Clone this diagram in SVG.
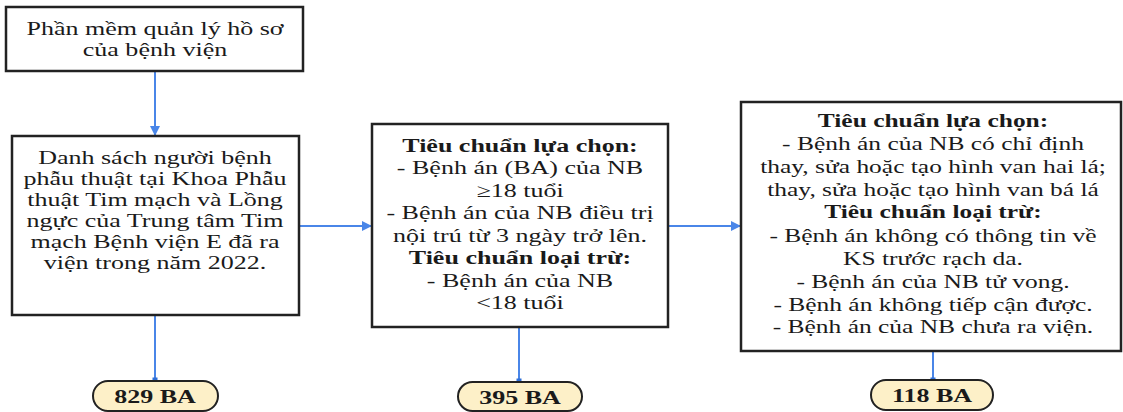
<svg xmlns="http://www.w3.org/2000/svg" width="1123" height="412" viewBox="0 0 1123 412">
<style>
.box{fill:#fff;stroke:#222;stroke-width:2.5}
.oval{fill:#fdf0c8;stroke:#222;stroke-width:2}
.t{font-family:"Liberation Serif","Times New Roman",serif;font-size:19px;fill:#1a1a1a;text-anchor:middle}
.b{font-weight:bold}
.ov{font-family:"Liberation Serif","Times New Roman",serif;font-size:19px;font-weight:bold;fill:#1a1a1a;text-anchor:middle}
.c{stroke:#4a86e8;stroke-width:2;fill:none}
</style>
<defs>
<marker id="ah" markerWidth="10" markerHeight="10" refX="9" refY="5" orient="auto" markerUnits="userSpaceOnUse">
<path d="M0,0 L10,5 L0,10 z" fill="#4a86e8"/>
</marker>
<marker id="dot" markerWidth="6" markerHeight="6" refX="3" refY="3" markerUnits="userSpaceOnUse">
<rect x="0.5" y="0.5" width="5" height="5" fill="#2f6fd6"/>
</marker>
</defs>
<rect width="1123" height="412" fill="#fff"/>
<g id="connectors">
<line class="c" x1="155" y1="72" x2="155" y2="135" marker-end="url(#ah)"/>
<line class="c" x1="299" y1="226" x2="371" y2="226" marker-end="url(#ah)"/>
<line class="c" x1="668" y1="226" x2="740" y2="226" marker-end="url(#ah)"/>
<line class="c" x1="155" y1="316" x2="155" y2="380" marker-end="url(#dot)"/>
<line class="c" x1="519" y1="328" x2="519" y2="381" marker-end="url(#dot)"/>
<line class="c" x1="933" y1="352" x2="933" y2="380" marker-end="url(#dot)"/>
</g>
<g id="n1">
<rect class="box" x="6" y="7" width="297" height="64"/>
<g transform="translate(155 0) scale(1.37 1)">
<text class="t" x="0" y="35">Phần mềm quản lý hồ sơ</text>
<text class="t" x="0" y="56">của bệnh viện</text>
</g>
</g>
<g id="n2">
<rect class="box" x="12" y="136" width="287" height="179"/>
<g transform="translate(155 0) scale(1.37 1)">
<text class="t" x="0" y="164">Danh sách người bệnh</text>
<text class="t" x="0" y="185">phẫu thuật tại Khoa Phẫu</text>
<text class="t" x="0" y="206">thuật Tim mạch và Lồng</text>
<text class="t" x="0" y="227">ngực của Trung tâm Tim</text>
<text class="t" x="0" y="248">mạch Bệnh viện E đã ra</text>
<text class="t" x="0" y="269">viện trong năm 2022.</text>
</g>
</g>
<g id="n3">
<rect class="box" x="372" y="124" width="296" height="203"/>
<g transform="translate(520 0) scale(1.37 1)">
<text class="t b" x="0" y="152">Tiêu chuẩn lựa chọn:</text>
<text class="t" x="0" y="174">- Bệnh án (BA) của NB</text>
<text class="t" x="0" y="197">≥18 tuổi</text>
<text class="t" x="0" y="219">- Bệnh án của NB điều trị</text>
<text class="t" x="0" y="242">nội trú từ 3 ngày trở lên.</text>
<text class="t b" x="0" y="264">Tiêu chuẩn loại trừ:</text>
<text class="t" x="0" y="287">- Bệnh án của NB</text>
<text class="t" x="0" y="309">&lt;18 tuổi</text>
</g>
</g>
<g id="n4">
<rect class="box" x="741" y="102" width="380" height="249"/>
<g transform="translate(933 0) scale(1.34 1)">
<text class="t b" x="0" y="127">Tiêu chuẩn lựa chọn:</text>
<text class="t" x="0" y="150">- Bệnh án của NB có chỉ định</text>
<text class="t" x="0" y="173">thay, sửa hoặc tạo hình van hai lá;</text>
<text class="t" x="0" y="196">thay, sửa hoặc tạo hình van bá lá</text>
<text class="t b" x="0" y="218">Tiêu chuẩn loại trừ:</text>
<text class="t" x="0" y="242">- Bệnh án không có thông tin về</text>
<text class="t" x="0" y="265">KS trước rạch da.</text>
<text class="t" x="0" y="288">- Bệnh án của NB tử vong.</text>
<text class="t" x="0" y="311">- Bệnh án không tiếp cận được.</text>
<text class="t" x="0" y="333">- Bệnh án của NB chưa ra viện.</text>
</g>
</g>
<g id="o1">
<rect class="oval" x="93" y="381" width="125" height="30" rx="15"/>
<text class="ov" x="0" y="403" transform="translate(155 0) scale(1.37 1)">829 BA</text>
</g>
<g id="o2">
<rect class="oval" x="458" y="382" width="124" height="29" rx="14.5"/>
<text class="ov" x="0" y="404" transform="translate(520 0) scale(1.37 1)">395 BA</text>
</g>
<g id="o3">
<rect class="oval" x="871" y="380" width="122" height="30" rx="15"/>
<text class="ov" x="0" y="402" transform="translate(932 0) scale(1.37 1)">118 BA</text>
</g>
</svg>
